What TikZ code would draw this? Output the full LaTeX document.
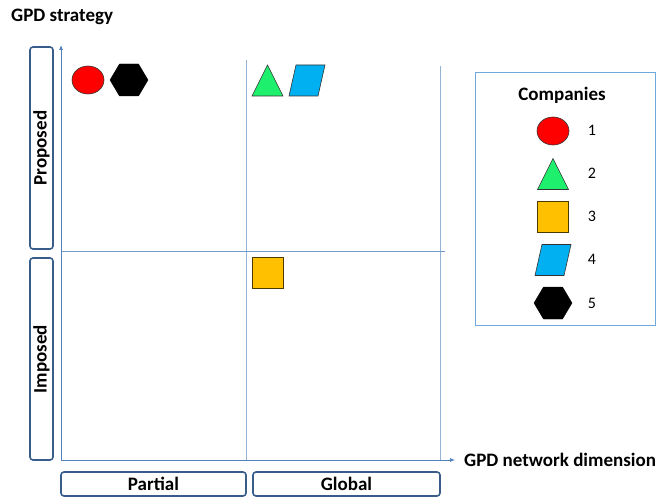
\documentclass[tikz,border=0pt]{standalone}
\usepackage{fontspec}
\setmainfont{Carlito}
\usetikzlibrary{shapes.geometric,arrows.meta}
\definecolor{axisblue}{HTML}{4F81BD}
\definecolor{gridblue}{HTML}{95B3D7}
\definecolor{boxblue}{HTML}{385D8A}
\definecolor{legblue}{HTML}{6FA8DC}
\definecolor{cred}{HTML}{FF0000}
\definecolor{cgreen}{HTML}{1EF06E}
\definecolor{corange}{HTML}{FFC000}
\definecolor{cblue}{HTML}{00B0F0}
\tikzset{
  px/.style={x=1pt,y=-1pt},
  lab/.style={font=\bfseries\fontsize{19}{22}\selectfont},
  catbox/.style={draw=boxblue,line width=1.6pt,rounded corners=3pt,inner sep=0pt},
  grid/.style={draw=gridblue,line width=0.8pt},
  axis/.style={draw=axisblue,line width=0.8pt,-{Latex[length=5pt,width=4pt]}},
  oval/.style={ellipse,draw=black!80,line width=0.6pt,fill=cred,minimum width=32pt,minimum height=28pt,inner sep=0pt},
  sq/.style={rectangle,draw=black!70!corange,line width=0.8pt,fill=corange,minimum width=31pt,minimum height=31pt,inner sep=0pt},
  num/.style={font=\fontsize{16}{19}\selectfont},
  paral/.pic={\draw[draw=black!80,line width=0.6pt,fill=cblue] (-11,-15.5) -- (18,-15.5) -- (11,15.5) -- (-18,15.5) -- cycle;},
  hexa/.pic={\draw[draw=black,fill=black] (-19,0) -- (-9.5,-16) -- (9.5,-16) -- (19,0) -- (9.5,16) -- (-9.5,16) -- cycle;},
  tria/.pic={\draw[draw=black!80,line width=0.6pt,fill=cgreen] (-15.5,15.5) -- (0,-15.5) -- (15.5,15.5) -- cycle;}
}
\begin{document}
\begin{tikzpicture}[px]
\useasboundingbox (0,0) rectangle (656,500);
% title
\node[lab,anchor=west,inner sep=0pt] (title) at (11,17) {GPD strategy};
% grid
\coordinate (o) at (61,460);
\coordinate (ytop) at (61,45);
\coordinate (xend) at (455,460);
\coordinate (v1t) at (246,60);
\coordinate (v1b) at (246,460);
\coordinate (v2t) at (440,66);
\coordinate (v2b) at (440,460);
\coordinate (hl) at (61,251);
\coordinate (hr) at (445,251);
\draw[grid] (v1t) -- (v1b);
\draw[grid] (v2t) -- (v2b);
\draw[grid,draw=axisblue!80] (hl) -- (hr);
\draw[axis] (o) -- (ytop);
\draw[axis] (o) -- (xend);
\node[lab,anchor=west,inner sep=0pt] (xlab) at (464,460) {GPD network dimension};
% category boxes
\node[catbox,minimum width=23pt,minimum height=202pt] (prop) at (41.5,148) {};
\node[lab,rotate=90] at (prop.center) {Proposed};
\node[catbox,minimum width=23pt,minimum height=202pt] (imp) at (41.5,359) {};
\node[lab,rotate=90] at (imp.center) {Imposed};
\node[catbox,minimum width=185pt,minimum height=24pt] (part) at (153.5,484) {};
\node[lab] at (part.center) {Partial};
\node[catbox,minimum width=187pt,minimum height=24pt] (glob) at (346.5,484) {};
\node[lab] at (glob.center) {Global};
% company shapes
\node[oval] (c1) at (88,80) {};
\pic (c5) at (129,80) {hexa};
\pic (c2) at (267.5,80.5) {tria};
\pic (c4) at (307,80.5) {paral};
\node[sq] (c3) at (267.5,272.5) {};
% legend
\node[draw=legblue,line width=0.8pt,minimum width=180pt,minimum height=253pt,inner sep=0pt] (leg) at (565,198.5) {};
\node[lab] (legt) at (562,95) {Companies};
\node[oval] (l1) at (553,131) {};
\node[num] (n1) at (592,130) {1};
\pic (l2) at (553,174) {tria};
\node[num] (n2) at (592,173) {2};
\node[sq] (l3) at (553,216.5) {};
\node[num] (n3) at (592,216) {3};
\pic (l4) at (553,260) {paral};
\node[num] (n4) at (592,259) {4};
\pic (l5) at (553,303) {hexa};
\node[num] (n5) at (592,303) {5};
\end{tikzpicture}
\end{document}
